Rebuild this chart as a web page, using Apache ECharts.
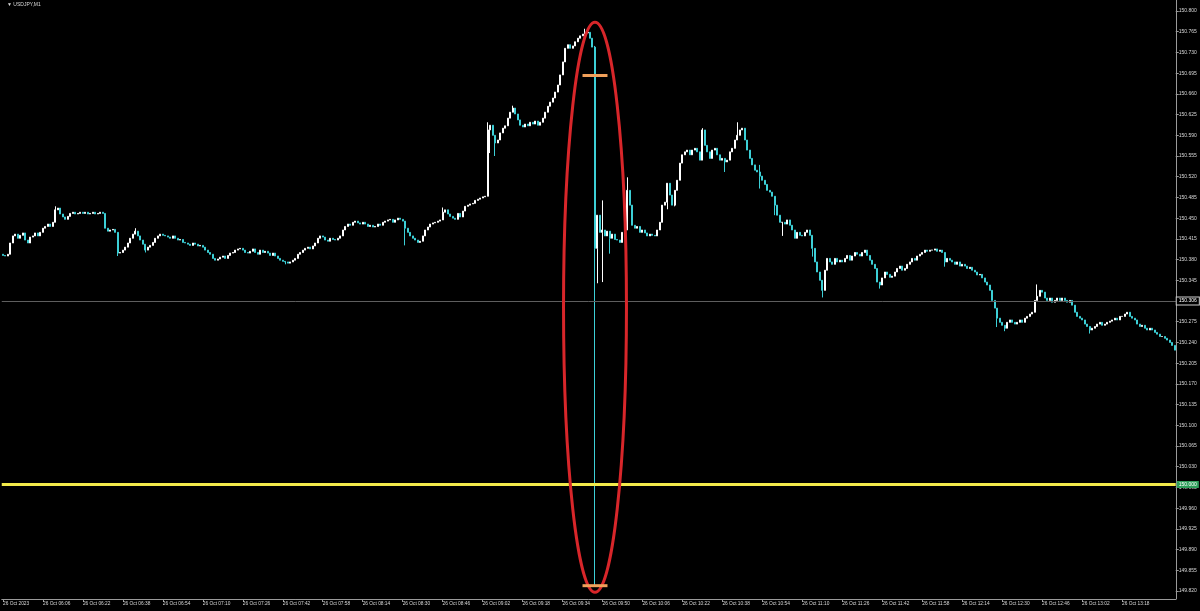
<!DOCTYPE html>
<html><head><meta charset="utf-8">
<script src="https://cdn.jsdelivr.net/npm/echarts@6/dist/echarts.min.js"></script>
<style>html,body{margin:0;padding:0;background:#000;}#c{width:1200px;height:611px;}</style>
</head><body><div id="c"></div>
<script>
// ---- DATA ----
const symbolTitle = 'USDJPY,M1';
const dateLabel = '26 Oct';
const firstLabel = '26 Oct 2023';
const startHour = 5, startMinute = 50;
const firstOpen = 150.389;
const closes = [
150.387,150.386,150.389,150.408,150.420,150.423,150.416,150.421,
150.425,150.413,150.408,150.418,150.420,150.425,150.420,150.426,
150.433,150.436,150.440,150.436,150.443,150.464,150.467,150.457,
150.452,150.448,150.453,150.458,150.460,150.457,150.458,150.460,
150.458,150.460,150.457,150.458,150.460,150.457,150.458,150.460,
150.458,150.433,150.428,150.430,150.431,150.426,150.391,150.392,
150.396,150.401,150.408,150.416,150.423,150.428,150.420,150.413,
150.406,150.396,150.401,150.404,150.409,150.416,150.420,150.423,
150.421,150.420,150.418,150.416,150.420,150.416,150.413,150.414,
150.409,150.408,150.406,150.404,150.408,150.406,150.403,150.404,
150.401,150.396,150.392,150.389,150.382,150.379,150.381,150.384,
150.386,150.382,150.387,150.391,150.392,150.396,150.398,150.399,
150.396,150.392,150.391,150.394,150.398,150.392,150.389,150.396,
150.392,150.394,150.391,150.387,150.391,150.386,150.382,150.379,
150.377,150.376,150.374,150.376,150.379,150.382,150.389,150.392,
150.396,150.399,150.401,150.398,150.403,150.408,150.416,150.420,
150.418,150.413,150.411,150.416,150.414,150.413,150.416,150.420,
150.430,150.436,150.440,150.438,150.443,150.445,150.442,150.440,
150.443,150.440,150.436,150.438,150.435,150.436,150.440,150.438,
150.443,150.445,150.447,150.448,150.443,150.447,150.450,150.448,
150.445,150.433,150.426,150.420,150.416,150.413,150.409,150.411,
150.420,150.430,150.435,150.440,150.442,150.443,150.445,150.447,
150.460,150.464,150.457,150.453,150.450,150.448,150.458,150.452,
150.462,150.470,150.472,150.474,150.475,150.480,150.482,150.484,
150.486,150.487,150.599,150.607,150.590,150.577,150.582,150.594,
150.602,150.606,150.619,150.629,150.636,150.626,150.616,150.607,
150.604,150.609,150.606,150.612,150.609,150.614,150.607,150.612,
150.619,150.629,150.639,150.646,150.653,150.663,150.675,150.692,
150.714,150.737,150.743,150.737,150.741,150.748,150.754,150.758,
150.761,150.763,150.764,150.754,150.739,150.399,150.455,150.426,
150.430,150.420,150.428,150.416,150.423,150.414,150.413,150.409,
150.426,150.430,150.497,150.472,150.438,150.433,150.436,150.426,
150.430,150.425,150.420,150.423,150.421,150.420,150.430,150.443,
150.472,150.477,150.509,150.489,150.472,150.497,150.514,150.543,
150.557,150.562,150.565,150.557,150.565,150.568,150.562,150.548,
150.599,150.573,150.562,150.551,150.565,150.568,150.557,150.548,
150.551,150.545,150.548,150.562,150.568,150.582,150.590,150.599,
150.602,150.582,150.565,150.551,150.540,150.531,150.528,150.521,
150.514,150.507,150.497,150.494,150.487,150.472,150.455,150.443,
150.443,150.440,150.447,150.438,150.430,150.416,150.426,150.421,
150.420,150.426,150.430,150.421,150.399,150.376,150.359,150.345,
150.328,150.362,150.382,150.376,150.372,150.382,150.376,150.379,
150.376,150.382,150.387,150.379,150.386,150.392,150.389,150.386,
150.392,150.396,150.387,150.379,150.372,150.365,150.342,150.337,
150.349,150.359,150.355,150.350,150.352,150.359,150.365,150.369,
150.362,150.365,150.372,150.376,150.382,150.379,150.386,150.389,
150.392,150.396,150.394,150.396,150.396,150.398,150.394,150.396,
150.392,150.376,150.382,150.379,150.376,150.372,150.376,150.369,
150.372,150.369,150.365,150.367,150.362,150.359,150.354,150.355,
150.349,150.342,150.337,150.328,150.311,150.298,150.281,150.274,
150.269,150.264,150.274,150.278,150.274,150.271,150.274,150.278,
150.274,150.281,150.284,150.288,150.291,150.311,150.318,150.328,
150.325,150.315,150.311,150.315,150.308,150.311,150.315,150.311,
150.315,150.311,150.308,150.311,150.303,150.291,150.284,150.281,
150.278,150.271,150.267,150.261,150.264,150.267,150.271,150.274,
150.269,150.271,150.274,150.276,150.278,150.281,150.278,150.284,
150.284,150.288,150.291,150.284,150.281,150.278,150.271,150.267,
150.269,150.264,150.261,150.264,150.261,150.257,150.254,150.250,
150.250,150.247,150.244,150.240,150.235,150.227
];
// wick extremes: [barIndex, high, low]
const wicks = [
  [21, 150.470, null], [46, null, 150.386], [53, 150.433, null], [57, null, 150.392],
  [113, null, 150.372], [161, null, 150.404], [176, 150.468, null],
  [194, 150.612, null], [195, null, 150.560], [197, null, 150.555],
  [204, 150.640, null], [233, 150.770, null], [237, 150.741, 149.829],
  [238, null, 150.340], [240, 150.480, 150.342], [243, null, 150.390], [250, 150.519, null],
  [266, null, 150.465], [269, null, 150.470], [280, 150.602, null], [289, null, 150.528],
  [294, 150.612, null], [303, 150.540, 150.500], [309, null, 150.455],
  [312, null, 150.420], [324, null, 150.385], [328, null, 150.316], [351, null, 150.331],
  [377, null, 150.368], [398, null, 150.266], [401, null, 150.259], [414, 150.338, null],
  [435, null, 150.255]
];
const yTickValues = [149.820,149.855,149.890,149.925,149.960,149.995,150.030,150.065,150.100,
  150.135,150.170,150.205,150.240,150.275,150.310,150.345,150.380,150.415,150.450,150.485,
  150.520,150.555,150.590,150.625,150.660,150.695,150.730,150.765,150.800];
const bidPrice = 150.306;
const levelPrice = 150.000;
const spikeBar = 237;
const ellipseTop = 150.781, ellipseBottom = 149.818, ellipseHalfBars = 12.6;
const markerHigh = 150.691, markerLow = 149.829, markerHalfBars = 5;
const yMin = 149.8065, yMax = 150.8186;

// ---- BUILD ----
const cats = [];
for (let i = 0; i < closes.length; i++) {
  const t = startHour * 60 + startMinute + i;
  const hh = String(Math.floor(t / 60)).padStart(2, '0');
  const mm = String(t % 60).padStart(2, '0');
  cats.push(i === 0 ? firstLabel : dateLabel + ' ' + hh + ':' + mm);
}
const wickMap = {};
wicks.forEach(w => { wickMap[w[0]] = w; });
const candles = closes.map((c, i) => {
  const o = i === 0 ? firstOpen : closes[i - 1];
  let hi = Math.max(o, c), lo = Math.min(o, c);
  const w = wickMap[i];
  if (w) { if (w[1] != null) hi = Math.max(hi, w[1]); if (w[2] != null) lo = Math.min(lo, w[2]); }
  return [o, c, lo, hi];
});

const chart = echarts.init(document.getElementById('c'), null, {renderer: 'canvas'});
const labelFont = 'Liberation Sans';
chart.setOption({
  backgroundColor: '#000000',
  animation: false,
  title: {
    text: '\u25BC ' + symbolTitle, left: 2, top: -3,
    textStyle: {color: '#d8d8d8', fontSize: 5, fontWeight: 'normal', fontFamily: labelFont}
  },
  grid: {left: 0.75, right: 24.25, top: 0, bottom: 12, containLabel: false},
  xAxis: {
    type: 'category', data: cats, boundaryGap: true,
    axisLine: {lineStyle: {color: '#9a9a9a', width: 1}},
    axisTick: {show: true, interval: 15, length: 3, inside: false, alignWithLabel: true, lineStyle: {color: '#9a9a9a'}},
    axisLabel: {interval: 15, color: '#d8d8d8', fontSize: 4.8, fontFamily: labelFont, align: 'left', margin: 2, showMinLabel: true, showMaxLabel: false, hideOverlap: false},
    splitLine: {show: false}
  },
  yAxis: {
    type: 'value', position: 'right', min: yMin, max: yMax, scale: true,
    axisLine: {show: true, lineStyle: {color: '#9a9a9a', width: 1}},
    axisTick: {show: true, length: 3, customValues: yTickValues, lineStyle: {color: '#9a9a9a'}},
    axisLabel: {customValues: yTickValues, color: '#d8d8d8', fontSize: 5, fontFamily: labelFont, margin: 3,
      formatter: v => v.toFixed(3), hideOverlap: false},
    splitLine: {show: false}
  },
  series: [
    {
      type: 'candlestick', data: candles, barWidth: 1.5, large: false,
      itemStyle: {color: '#ffffff', color0: '#3ccfd6', borderColor: '#ffffff', borderColor0: '#3ccfd6', borderWidth: 1},
      markLine: {
        symbol: 'none', silent: true, animation: false,
        data: [
          {yAxis: bidPrice, lineStyle: {color: '#5e5e5e', width: 1, type: 'solid'},
           label: {show: true, position: 'end', distance: 1, formatter: () => bidPrice.toFixed(3),
             color: '#ffffff', backgroundColor: '#000000', borderColor: '#d0d0d0', borderWidth: 1, padding: [1, 2],
             fontSize: 5, fontFamily: labelFont}},
          {yAxis: levelPrice, lineStyle: {color: '#f2ea4a', width: 3, type: 'solid'},
           label: {show: true, position: 'end', distance: 1, formatter: () => levelPrice.toFixed(3),
             color: '#ffffff', backgroundColor: '#2f9e5a', padding: [1, 2],
             fontSize: 5, fontFamily: labelFont}}
        ]
      }
    },
    {
      type: 'custom', silent: true, z: 5,
      data: [[spikeBar, ellipseTop, ellipseBottom]],
      renderItem: (params, api) => {
        const idx = api.value(0);
        const top = api.coord([idx, api.value(1)]);
        const bot = api.coord([idx, api.value(2)]);
        const step = api.coord([idx + 1, api.value(1)])[0] - top[0];
        const w = step * ellipseHalfBars;
        return {type: 'ellipse', shape: {cx: top[0], cy: (top[1] + bot[1]) / 2, rx: w, ry: (bot[1] - top[1]) / 2},
          style: {fill: null, stroke: '#d8262a', lineWidth: 3}};
      }
    },
    {
      type: 'custom', silent: true, z: 6,
      data: [[spikeBar, markerHigh], [spikeBar, markerLow]],
      renderItem: (params, api) => {
        const idx = api.value(0);
        const p = api.coord([idx, api.value(1)]);
        const step = api.coord([idx + 1, api.value(1)])[0] - p[0];
        const w = step * markerHalfBars;
        return {type: 'line', shape: {x1: p[0] - w, y1: p[1], x2: p[0] + w, y2: p[1]},
          style: {stroke: '#f0a05a', lineWidth: 3}};
      }
    }
  ]
});
</script></body></html>
